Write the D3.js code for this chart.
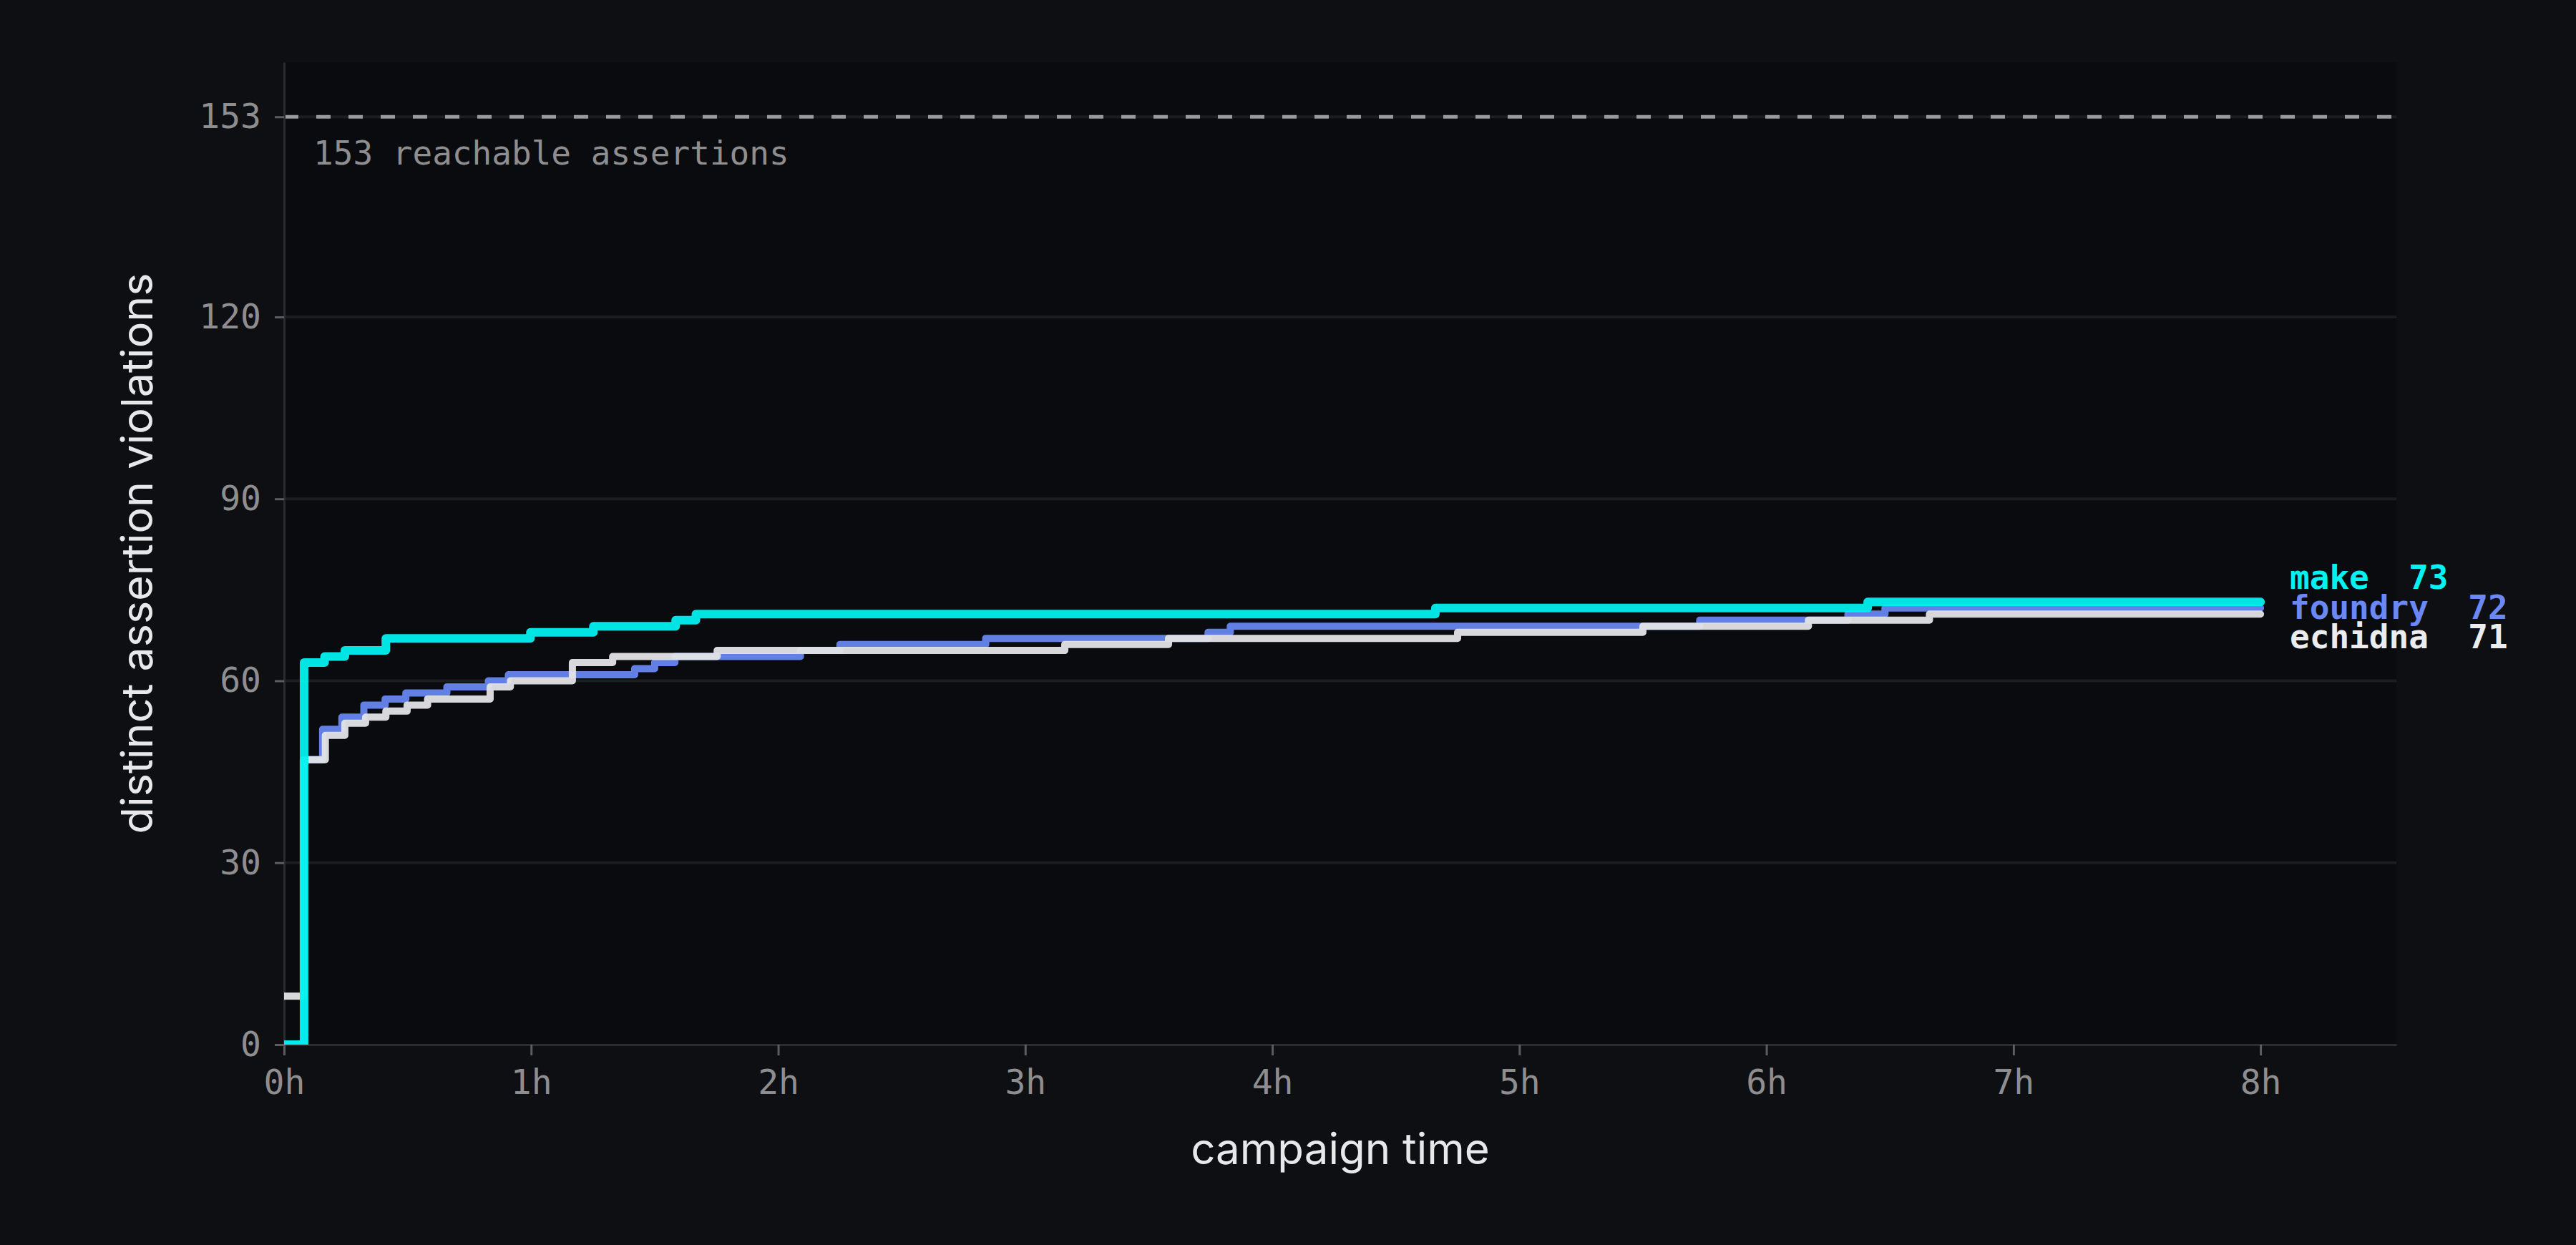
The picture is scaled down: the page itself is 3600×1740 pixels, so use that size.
<!DOCTYPE html>
<html>
<head>
<meta charset="utf-8">
<script src="https://cdn.jsdelivr.net/npm/d3@7"></script>
<style>
  html, body { margin: 0; padding: 0; background: #0e0f13; }
  svg { display: block; }
</style>
</head>
<body>
<svg id="chart"></svg>
<script>
// campaign hours at which each tool's count changes, and the count from then on
var makeHours     = [0, 0.081, 0.164, 0.246, 0.412, 0.997, 1.252, 1.585, 1.667, 4.66, 6.41, 8];
var makeCounts    = [0, 63, 64, 65, 67, 68, 69, 70, 71, 72, 73, 73];

var foundryHours  = [0, 0.08, 0.156, 0.234, 0.323, 0.409, 0.493, 0.659, 0.827, 0.908, 1.419, 1.50, 1.582, 2.09, 2.25, 2.84, 3.74, 3.83, 5.73, 6.33, 6.48, 8];
var foundryCounts = [0, 47, 52, 54, 56, 57, 58, 59, 60, 61, 62, 63, 64, 65, 66, 67, 68, 69, 70, 71, 72, 72];

var echidnaHours  = [0, 0.078, 0.167, 0.246, 0.330, 0.412, 0.498, 0.581, 0.834, 0.916, 1.167, 1.33, 1.753, 3.16, 3.58, 4.75, 5.50, 6.17, 6.66, 8];
var echidnaCounts = [8, 47, 51, 53, 54, 55, 56, 57, 59, 60, 63, 64, 65, 66, 67, 68, 69, 70, 71, 71];

var toolNames  = ["foundry", "echidna", "make"];
var reachable  = 153;
var yTicks     = [0, 30, 60, 90, 120, 153];
var xTicks     = [0, 1, 2, 3, 4, 5, 6, 7, 8];

var W = 3600, H = 1740;
var margin = {top: 87, right: 251, bottom: 280, left: 397};
var mono = "'DejaVu Sans Mono', 'Liberation Mono', monospace";
var sans = "Inter, 'Liberation Sans', sans-serif";

var lineColor  = {make: "#00f0f0", foundry: "#6787f0", echidna: "#e4e4e6"};
var labelColor = {make: "#00f2f2", foundry: "#6b88f4", echidna: "#ececee"};
var lineWidth  = {make: 12, foundry: 10, echidna: 10};

var series = {
  make:    makeHours.map(function(h, i) { return {h: h, v: makeCounts[i]}; }),
  foundry: foundryHours.map(function(h, i) { return {h: h, v: foundryCounts[i]}; }),
  echidna: echidnaHours.map(function(h, i) { return {h: h, v: echidnaCounts[i]}; })
};

var svg = d3.select("#chart").attr("width", W).attr("height", H);

var x = d3.scaleLinear().domain([0, 8.55]).range([margin.left, W - margin.right]);
var y = d3.scaleLinear().domain([0, 162]).range([H - margin.bottom, margin.top]);

// plot background
svg.append("rect")
    .attr("x", x(0)).attr("y", y(162))
    .attr("width", x(8.55) - x(0)).attr("height", y(0) - y(162))
    .attr("fill", "#0a0b0e");

svg.append("clipPath").attr("id", "plotclip")
  .append("rect")
    .attr("x", x(0)).attr("y", y(162))
    .attr("width", x(8.55) - x(0)).attr("height", y(0) - y(162));

// gridlines
svg.append("g").selectAll("line")
    .data(yTicks.filter(function(d) { return d > 0; }))
  .enter().append("line")
    .attr("x1", x(0)).attr("x2", x(8.55))
    .attr("y1", function(d) { return y(d); })
    .attr("y2", function(d) { return y(d); })
    .attr("stroke", "#1c1d22")
    .attr("stroke-width", 4);

// reachable ceiling
svg.append("line")
    .attr("x1", x(0)).attr("x2", x(8.55))
    .attr("y1", y(reachable)).attr("y2", y(reachable))
    .attr("stroke", "#9a9a9c")
    .attr("stroke-width", 5)
    .attr("stroke-dasharray", "20,25");

svg.append("text")
    .attr("x", 438).attr("y", y(reachable) + 67)
    .attr("fill", "#8e8e90")
    .style("font-family", mono).style("font-size", "46px")
    .text(reachable + " reachable assertions");

// axes
var yAxis = svg.append("g")
    .attr("transform", "translate(" + x(0) + ",0)")
    .call(d3.axisLeft(y).tickValues(yTicks).tickSize(13).tickSizeOuter(0).tickPadding(19));

var xAxis = svg.append("g")
    .attr("transform", "translate(0," + y(0) + ")")
    .call(d3.axisBottom(x).tickValues(xTicks).tickFormat(function(d) { return d + "h"; })
      .tickSize(15).tickSizeOuter(0).tickPadding(20));

[yAxis, xAxis].forEach(function(ax) {
  ax.select(".domain").attr("stroke", "#2b2c31").attr("stroke-width", 3);
  ax.selectAll(".tick line").attr("stroke", "#5c5d62").attr("stroke-width", 3);
  ax.selectAll(".tick text")
      .attr("fill", "#8e8e90")
      .style("font-family", mono)
      .style("font-size", "48px");
});

// step lines
var line = d3.line()
    .curve(d3.curveStepAfter)
    .x(function(d) { return x(d.h); })
    .y(function(d) { return y(d.v); });

svg.append("g").attr("clip-path", "url(#plotclip)")
  .selectAll("path")
    .data(toolNames)
  .enter().append("path")
    .attr("d", function(name) { return line(series[name]); })
    .attr("fill", "none")
    .attr("stroke", function(name) { return lineColor[name]; })
    .attr("stroke-width", function(name) { return lineWidth[name]; })
    .attr("stroke-linejoin", "round")
    .attr("stroke-linecap", "round")
    .attr("stroke-opacity", 0.95);

// end labels, sorted by final count and spread apart
var ends = toolNames.map(function(name) {
  var s = series[name];
  return {name: name, v: s[s.length - 1].v};
}).sort(function(a, b) { return b.v - a.v; });

var midY = d3.mean(ends, function(d) { return y(d.v); });
var gap = 41.5;

svg.append("g").selectAll("text")
    .data(ends)
  .enter().append("text")
    .attr("x", 3200)
    .attr("y", function(d, i) { return midY + (i - (ends.length - 1) / 2) * gap; })
    .attr("dy", "0.33em")
    .attr("fill", function(d) { return labelColor[d.name]; })
    .style("font-family", mono).style("font-size", "46px").style("font-weight", "bold")
    .style("white-space", "pre")
    .attr("xml:space", "preserve")
    .text(function(d) { return d.name + "  " + d.v; });

// axis titles
svg.append("text")
    .attr("x", (x(0) + x(8.55)) / 2)
    .attr("y", 1627)
    .attr("text-anchor", "middle")
    .attr("fill", "#e8e8ea")
    .style("font-family", sans).style("font-size", "60px")
    .text("campaign time");

svg.append("text")
    .attr("transform", "translate(213," + ((y(0) + y(162)) / 2) + ") rotate(-90)")
    .attr("text-anchor", "middle")
    .attr("fill", "#e8e8ea")
    .style("font-family", sans).style("font-size", "61px")
    .text("distinct assertion violations");
</script>
</body>
</html>
